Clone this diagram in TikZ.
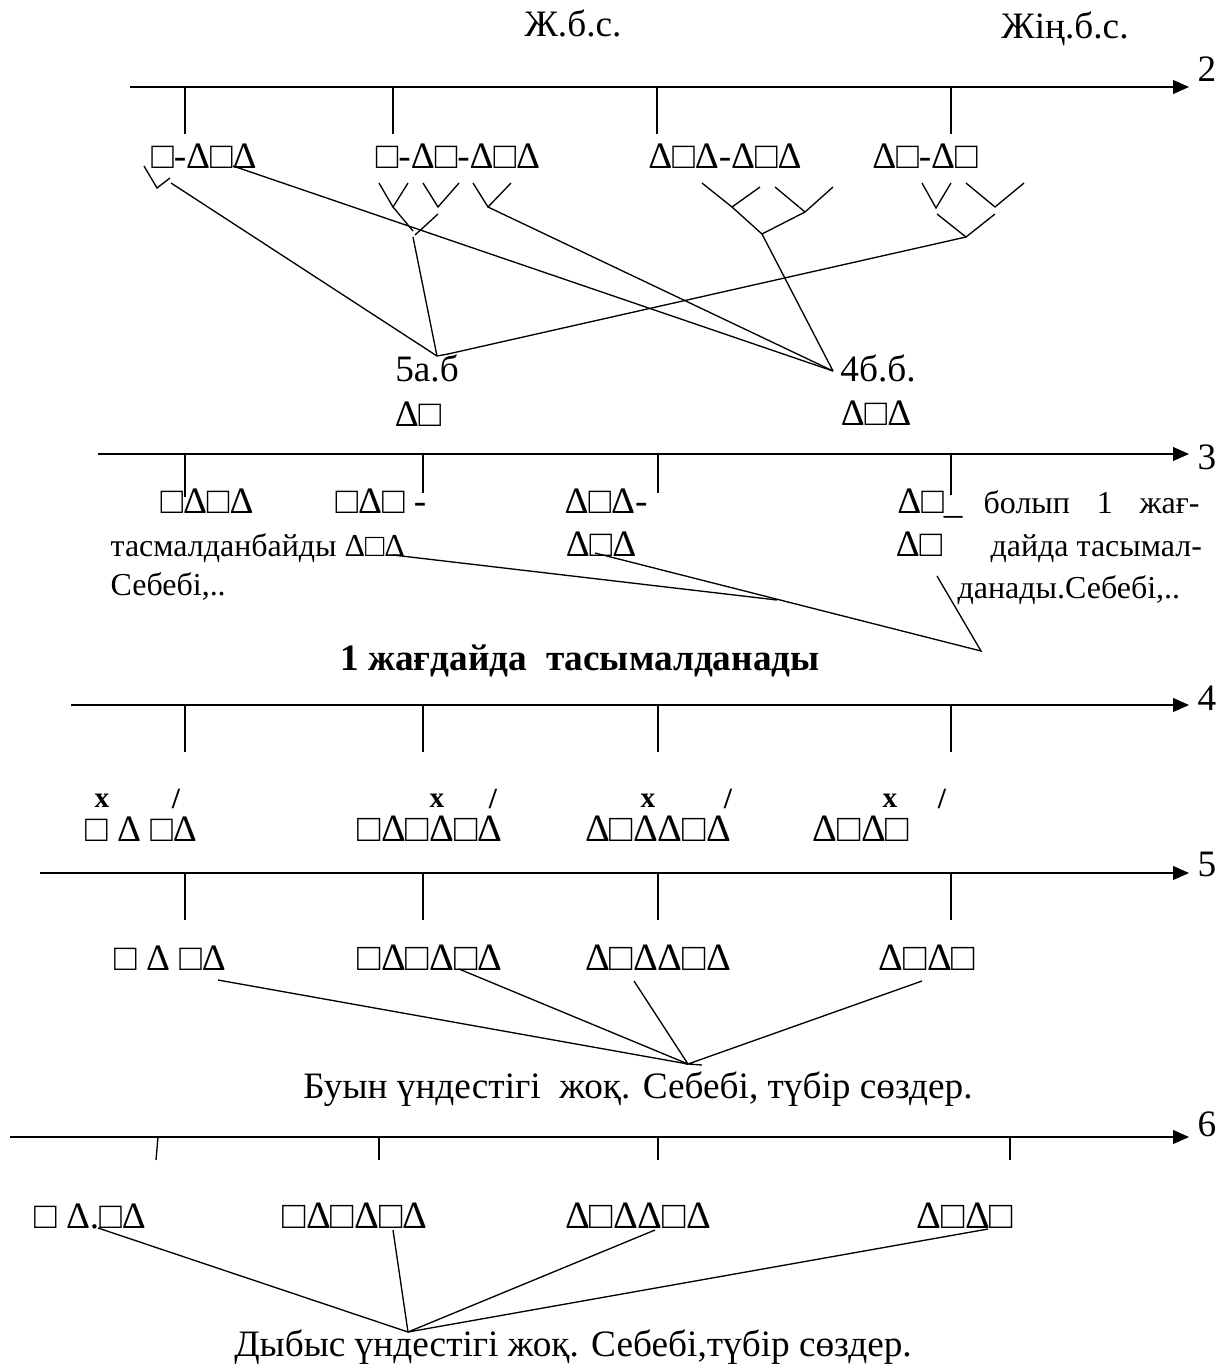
\documentclass[tikz,border=0pt]{standalone}
\usepackage{fontspec}
\setmainfont{Liberation Serif}
\usetikzlibrary{arrows.meta}

\tikzset{
  wort/.style={inner sep=0pt, text height=0.66em, text depth=0pt, font=\fontsize{14}{17}\selectfont},
  gross/.style={wort, font=\fontsize{14.5}{17}\selectfont},
  kasten/.style={wort, font=\fontsize{12}{14.5}\selectfont},
  klein/.style={inner sep=0pt, font=\fontsize{11}{13}\selectfont\bfseries},
  pfeil/.style={-{Triangle[length=6pt,width=5.2pt]}}
}

\begin{document}
\begin{tikzpicture}[x=0.0132cm,y=-0.0132cm,line width=0.5pt]
   \useasboundingbox (0,0) rectangle (1230,1367);

   %% Ueberschrift
   \node[wort] (jbs) at (573,28) {Ж.б.с.};
   \node[wort] (jinbs) at (1065,30) {Жің.б.с.};

   %% Achse 2
   \coordinate (a2l) at (130,87);
   \coordinate (a2r) at (1189,87);
   \draw[pfeil] (a2l) -- (a2r);
   \node[wort] (n2) at (1207,73) {2};
   \draw (185,87) -- (185,134);
   \draw (393,87) -- (393,134);
   \draw (657,87) -- (657,134);
   \draw (951,87) -- (951,134);

   \node[wort] (w2a) at (204,160) {□-Δ□Δ};
   \node[wort] (w2b) at (458,160) {□-Δ□-Δ□Δ};
   \node[wort] (w2c) at (725,160) {Δ□Δ-Δ□Δ};
   \node[wort] (w2d) at (925,160) {Δ□-Δ□};

   %% Klammern
   \draw (144,166) -- (157,188) -- (170,178);
   \draw (379,183) -- (393,207) -- (408,183);
   \draw (423,183) -- (438,207) -- (459,183);
   \draw (473,183) -- (488,207) -- (511,183);
   \draw (393,207) -- (413,231);
   \draw (438,214) -- (415,235);
   \draw (702,183) -- (732,207) -- (762,234);
   \draw (732,207) -- (760,187);
   \draw (775,187) -- (805,212) -- (833,187);
   \draw (805,212) -- (762,234);
   \draw (922,183) -- (936,208) -- (951,183);
   \draw (966,183) -- (995,207) -- (1024,183);
   \draw (937,214) -- (966,237) -- (995,214);

   %% Verbindungen
   \coordinate (k1) at (171,183);
   \coordinate (k2) at (233,166);
   \coordinate (k3) at (413,237);
   \coordinate (k4) at (488,207);
   \coordinate (k5) at (762,234);
   \coordinate (k6) at (966,237);
   \coordinate (f5) at (437,356);
   \coordinate (f5b) at (448,354);
   \coordinate (f4) at (833,371);
   \draw (k1) -- (f5) -- (f5b) -- (k6);
   \draw (k3) -- (f5);
   \draw (k2) -- (f4);
   \draw (k4) -- (f4);
   \draw (k5) -- (f4);

   \node[wort] (ab5) at (427,373) {5а.б};
   \node[wort] (ab5w) at (418,418) {Δ□};
   \node[wort] (bb4) at (878,373) {4б.б.};
   \node[wort] (bb4w) at (876,417) {Δ□Δ};

   %% Achse 3
   \coordinate (a3l) at (98,454);
   \coordinate (a3r) at (1189,454);
   \draw[pfeil] (a3l) -- (a3r);
   \node[wort] (n3) at (1207,461) {3};
   \draw (185,454) -- (185,497);
   \draw (423,454) -- (423,493);
   \draw (658,454) -- (658,493);
   \draw (951,454) -- (951,495);

   \node[wort] (w3a) at (207,505) {□Δ□Δ};
   \node[wort] (w3b) at (381,505) {□Δ□ -};
   \node[kasten,anchor=west] (w3c) at (110,548) {тасмалданбайды Δ□Δ};
   \node[kasten,anchor=west] (w3d) at (110,587) {Себебі,..};
   \node[wort] (w3e) at (606,505) {Δ□Δ-};
   \node[wort] (w3f) at (601,548) {Δ□Δ};
   \node[wort] (w3g) at (930,505) {Δ□\_};
   \node[kasten,anchor=west] (w3h) at (983,505) {\makebox[2.85cm][s]{болып 1 жағ-}};
   \node[wort] (w3i) at (919,548) {Δ□};
   \node[kasten,anchor=west] (w3j) at (990,548) {дайда тасымал-};
   \node[kasten,anchor=west] (w3k) at (957,590) {данады.Себебі,..};

   \coordinate (c1) at (393,555);
   \coordinate (c2) at (777,600);
   \coordinate (c3) at (595,553);
   \coordinate (c4) at (981,651);
   \coordinate (c5) at (937,576);
   \draw (c1) -- (c2);
   \draw (c3) -- (c4) -- (c5);

   \node[wort,font=\fontsize{14}{17}\selectfont\bfseries] (fall) at (580,662) {1 жағдайда\ \ тасымалданады};

   %% Achse 4
   \coordinate (a4l) at (71,705);
   \coordinate (a4r) at (1189,705);
   \draw[pfeil] (a4l) -- (a4r);
   \node[wort] (n4) at (1207,702) {4};
   \draw (185,705) -- (185,752);
   \draw (423,705) -- (423,752);
   \draw (658,705) -- (658,752);
   \draw (951,705) -- (951,752);

   \node[klein] (x4a) at (102,801) {x};
   \node[klein] (s4a) at (176,799) {/};
   \node[klein] (x4b) at (437,801) {x};
   \node[klein] (s4b) at (493,799) {/};
   \node[klein] (x4c) at (648,801) {x};
   \node[klein] (s4c) at (728,799) {/};
   \node[klein] (x4d) at (890,801) {x};
   \node[klein] (s4d) at (942,799) {/};

   \node[wort] (w4a) at (141,833) {□ Δ □Δ};
   \node[gross] (w4b) at (430,833) {□Δ□Δ□Δ};
   \node[gross] (w4c) at (658,833) {Δ□ΔΔ□Δ};
   \node[gross] (w4d) at (861,833) {Δ□Δ□};

   %% Achse 5
   \coordinate (a5l) at (40,873);
   \coordinate (a5r) at (1189,873);
   \draw[pfeil] (a5l) -- (a5r);
   \node[wort] (n5) at (1207,868) {5};
   \draw (185,873) -- (185,920);
   \draw (423,873) -- (423,920);
   \draw (658,873) -- (658,920);
   \draw (951,873) -- (951,920);

   \node[wort] (w5a) at (170,962) {□ Δ □Δ};
   \node[gross] (w5b) at (430,962) {□Δ□Δ□Δ};
   \node[gross] (w5c) at (658,962) {Δ□ΔΔ□Δ};
   \node[gross] (w5d) at (927,962) {Δ□Δ□};

   \coordinate (d1) at (218,980);
   \coordinate (d2) at (459,969);
   \coordinate (d3) at (634,981);
   \coordinate (d4) at (922,981);
   \coordinate (d0) at (688,1064);
   \coordinate (d0b) at (702,1065);
   \draw (d1) -- (d0);
   \draw (d2) -- (d0);
   \draw (d3) -- (d0);
   \draw (d4) -- (d0) -- (d0b);

   \node[wort] (buyn) at (638,1090) {Буын үндестігі\ \ жоқ. Себебі, түбір сөздер.};

   %% Achse 6
   \coordinate (a6l) at (10,1137);
   \coordinate (a6r) at (1189,1137);
   \draw[pfeil] (a6l) -- (a6r);
   \node[wort] (n6) at (1207,1128) {6};
   \draw (158,1137) -- (156,1160);
   \draw (379,1137) -- (379,1160);
   \draw (658,1137) -- (658,1160);
   \draw (1010,1137) -- (1010,1160);

   \node[wort] (w6a) at (90,1220) {□ Δ.□Δ};
   \node[gross] (w6b) at (355,1220) {□Δ□Δ□Δ};
   \node[gross] (w6c) at (638,1220) {Δ□ΔΔ□Δ};
   \node[gross] (w6d) at (965,1220) {Δ□Δ□};

   \coordinate (e1) at (98,1228);
   \coordinate (e2) at (393,1230);
   \coordinate (e3) at (655,1230);
   \coordinate (e4) at (988,1229);
   \coordinate (e0) at (408,1332);
   \draw (e1) -- (e0);
   \draw (e2) -- (e0);
   \draw (e3) -- (e0);
   \draw (e4) -- (e0);

   \node[wort] (dybys) at (573,1348) {Дыбыс үндестігі жоқ. Себебі,түбір сөздер.};
\end{tikzpicture}
\end{document}
